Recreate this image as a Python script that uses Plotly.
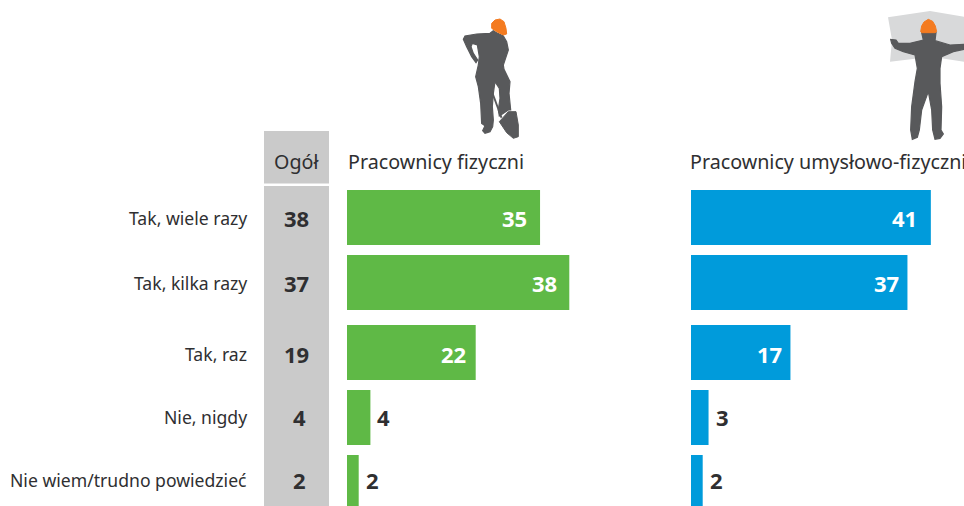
import plotly.graph_objects as go

W, H = 964, 506

categories = ["Tak, wiele razy", "Tak, kilka razy", "Tak, raz", "Nie, nigdy", "Nie wiem/trudno powiedzieć"]
ogol_values = [38, 37, 19, 4, 2]
fizyczni_lengths = [33, 38, 22, 4, 2]   # drawn bar lengths
fizyczni_labels = [35, 38, 22, 4, 2]    # printed labels
umyslowi_values = [41, 37, 17, 3, 2]
title_ogol = "Ogół"
title_fiz = "Pracownicy fizyczni"
title_umys = "Pracownicy umysłowo-fizyczni"

GREEN, BLUE, GREY = "#5FB946", "#009BDB", "#CACACA"
DARK, TEXT, ORANGE, PAPER = "#58595B", "#2F2F31", "#F47B20", "#D8D9DA"
FONT = "Noto Sans"
PX_PER_UNIT = 5.85
ROW_PX = 65
TOP_CENTER = 217.5
TEXT_LIFT = [0, 0, -1, 1, 3]       # pixel nudges of row texts
FIZ_SHIFT = [-11, -10, -8, 5, 5]   # pixel offset of labels from bar ends
UMYS_SHIFT = [-12, -6, -6, 5, 5]
OGOL_SHIFT = [0, 0, 0, 3, 3]


def row_position(i):
    return i + (5 / ROW_PX if i >= 2 else 0)


rows = [row_position(i) for i in range(len(categories))]


def px_x(x):
    return x / W


def px_y(y):
    return 1 - y / H


def path(points, ox, oy):
    pts = [(px_x(ox + x / 3), px_y(oy + y / 3)) for x, y in points]
    return "M" + " L".join(f"{x:.5f},{y:.5f}" for x, y in pts) + " Z"


def blob(points, ox, oy, color, outline=0):
    return dict(type="path", xref="paper", yref="paper", path=path(points, ox, oy),
                fillcolor=color, line=dict(width=outline, color=color), layer="above")


def rect(x0, y0, x1, y1, color):
    return dict(type="rect", xref="paper", yref="paper", x0=px_x(x0), x1=px_x(x1),
                y0=px_y(y0), y1=px_y(y1), fillcolor=color, line=dict(width=0), layer="below")


# Pictograms (outline sketched in zoomed reference units)
worker1_body = [(160, 62), (150, 70), (110, 72), (75, 78), (70, 88), (80, 110), (95, 140), (108, 158), (113, 150),
                (100, 130), (93, 110), (97, 100), (112, 105), (118, 140), (115, 165), (107, 200), (115, 230),
                (122, 280), (125, 340), (135, 347), (128, 362), (135, 370), (150, 365), (158, 350), (160, 330),
                (157, 290), (160, 250), (165, 215), (178, 235), (180, 265), (175, 300), (178, 318), (205, 300),
                (212, 300), (207, 250), (210, 215), (192, 178), (190, 165), (205, 120), (200, 95), (190, 78), (170, 68)]
worker1_shaft = [(153, 245), (158, 243), (187, 322), (182, 325)]
worker1_blade = [(178, 335), (205, 305), (228, 305), (235, 345), (235, 380), (220, 385), (200, 368)]
worker1_helmet = [(155, 40), (165, 30), (180, 27), (192, 35), (198, 55), (200, 72), (190, 75), (170, 65), (155, 55)]
worker2_sheet = [(84, 22), (210, 3), (312, 20), (312, 155), (215, 140), (90, 155), (96, 90)]
worker2_body = [(185, 68), (190, 90), (150, 100), (115, 100), (108, 90), (92, 88), (95, 100), (105, 115), (130, 125),
                (165, 135), (172, 175), (165, 215), (155, 290), (152, 360), (157, 388), (172, 382), (178, 360),
                (185, 300), (205, 245), (215, 300), (218, 360), (225, 388), (240, 385), (250, 372), (243, 360),
                (245, 290), (240, 220), (240, 175), (245, 140), (280, 125), (312, 118), (312, 103), (270, 105),
                (225, 92), (228, 68)]
worker2_helmet = [(182, 65), (185, 48), (192, 36), (205, 28), (218, 34), (226, 48), (230, 65), (225, 68), (185, 68)]

shapes = [
    rect(264, 131, 329, 183.5, GREY),
    rect(264, 186, 329, 506, GREY),
    blob(worker2_sheet, 860, 10, PAPER),
    blob(worker1_shaft, 440, 10, DARK),
    blob(worker1_blade, 440, 10, DARK, 1),
    blob(worker1_body, 440, 10, DARK, 1.2),
    blob(worker1_helmet, 440, 10, ORANGE, 1),
    blob(worker2_body, 860, 10, DARK, 1.2),
    blob(worker2_helmet, 860, 10, ORANGE, 1),
]

fig = go.Figure()
fig.add_trace(go.Bar(x=fizyczni_lengths, y=rows, orientation="h", width=55 / ROW_PX,
                     marker=dict(color=GREEN, line=dict(width=0)), xaxis="x", yaxis="y", hoverinfo="skip"))
fig.add_trace(go.Bar(x=umyslowi_values, y=rows, orientation="h", width=55 / ROW_PX,
                     marker=dict(color=BLUE, line=dict(width=0)), xaxis="x2", yaxis="y", hoverinfo="skip"))
fig.add_trace(go.Scatter(x=[0.5] * len(rows), y=rows, mode="markers", marker=dict(opacity=0),
                         xaxis="x3", yaxis="y", hoverinfo="skip"))

annotations = []
VALUE_FONT = dict(family=FONT, size=22)


def value_label(x, y, text, xaxis, anchor, xshift, color, lift):
    annotations.append(dict(
        x=x, y=y, xref=xaxis, yref="y", text=f"<b>{text}</b>", showarrow=False,
        xanchor=anchor, xshift=xshift, yshift=lift, font=dict(VALUE_FONT, color=color)))


for length, label, y, lift, shift in zip(fizyczni_lengths, fizyczni_labels, rows, TEXT_LIFT, FIZ_SHIFT):
    if length >= 10:
        value_label(length, y, label, "x", "right", shift, "#FFFFFF", lift)
    else:
        value_label(length, y, label, "x", "left", shift, TEXT, lift)
for value, y, lift, shift in zip(umyslowi_values, rows, TEXT_LIFT, UMYS_SHIFT):
    if value >= 10:
        value_label(value, y, value, "x2", "right", shift, "#FFFFFF", lift)
    else:
        value_label(value, y, value, "x2", "left", shift, TEXT, lift)
for value, y, lift, shift in zip(ogol_values, rows, TEXT_LIFT, OGOL_SHIFT):
    value_label(0.5, y, value, "x3", "center", shift, TEXT, lift)
for cat, y, lift in zip(categories, rows, TEXT_LIFT):
    annotations.append(dict(x=px_x(249), y=y, xref="paper", yref="y", text=cat, showarrow=False,
                            xanchor="right", yshift=lift, font=dict(family=FONT, size=17.6, color=TEXT)))
for text, x, anchor in [(title_ogol, 296, "center"), (title_fiz, 346, "left"), (title_umys, 688, "left")]:
    annotations.append(dict(x=px_x(x), y=px_y(162), xref="paper", yref="paper", text=text, showarrow=False,
                            xanchor=anchor, yanchor="middle", font=dict(family=FONT, size=19.7, color=TEXT)))

fig.update_layout(
    width=W, height=H, margin=dict(l=0, r=0, t=0, b=0), autosize=False,
    paper_bgcolor="white", plot_bgcolor="rgba(0,0,0,0)", showlegend=False, barmode="overlay",
    xaxis=dict(domain=[px_x(347), px_x(680)], range=[0, 333 / PX_PER_UNIT], visible=False, anchor="y"),
    xaxis2=dict(domain=[px_x(691), 1], range=[0, 273 / PX_PER_UNIT], visible=False, anchor="y"),
    xaxis3=dict(domain=[px_x(264), px_x(329)], range=[0, 1], visible=False, anchor="y"),
    yaxis=dict(domain=[0, 1], range=[(H - TOP_CENTER) / ROW_PX, -TOP_CENTER / ROW_PX], visible=False),
    shapes=shapes, annotations=annotations,
)
fig.write_html("out.html", config=dict(displayModeBar=False),
               post_script="document.body.style.margin='0';document.body.style.overflow='hidden';")
